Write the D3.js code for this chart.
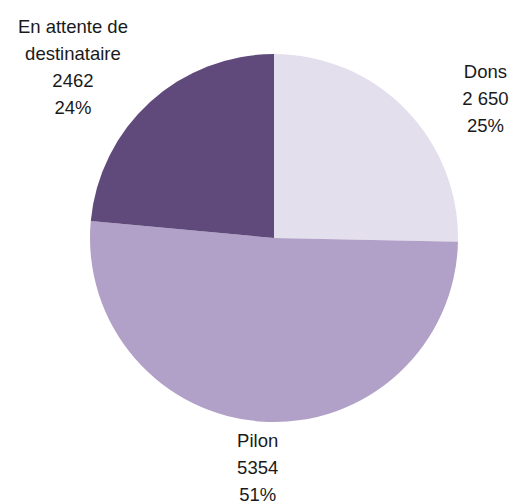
<!DOCTYPE html>
<html><head><meta charset="utf-8">
<script src="https://cdn.jsdelivr.net/npm/d3@7"></script>
<style>html,body{margin:0;padding:0;background:#fff;}svg{display:block;}</style>
</head><body>
<svg id="chart" width="516" height="504"></svg>
<script>
const categories = ["Dons", "Pilon", "En attente de destinataire"];
const values = [2650, 5354, 2462];
const valueLabels = ["2 650", "5354", "2462"];
const percentLabels = ["25%", "51%", "24%"];
const colors = ["#e4dfec", "#b1a0c7", "#604a7b"];

// layout (not data)
const W = 516, H = 504, cx = 274, cy = 238, R = 184;
const labelRadius = R + 70;
const labelShift = [[30, 38], [-2, -24], [-30, 17]];
const lineH = 27, fontSize = 18.5, wrapWidth = 130;
const FONT = "Liberation Sans, Arial, sans-serif";

const svg = d3.select("#chart");
const g = svg.append("g").attr("transform", `translate(${cx},${cy})`);

const pie = d3.pie().sort(null).value(d => d.value);
const data = categories.map((c, i) => ({cat: c, value: values[i], vl: valueLabels[i], pl: percentLabels[i], color: colors[i], i}));
const arcs = pie(data);
const arc = d3.arc().innerRadius(0).outerRadius(R);
const labelArc = d3.arc().innerRadius(labelRadius).outerRadius(labelRadius);

g.selectAll("path.slice").data(arcs).join("path")
  .attr("class", "slice")
  .attr("d", arc)
  .attr("fill", d => d.data.color);

const measure = svg.append("text").attr("font-family", FONT).attr("font-size", fontSize).attr("visibility", "hidden");
function wrap(str) {
  const words = str.split(" ");
  const lines = [];
  let cur = "";
  words.forEach(w => {
    const t = cur ? cur + " " + w : w;
    measure.text(t);
    if (measure.node().getComputedTextLength() > wrapWidth && cur) { lines.push(cur); cur = w; }
    else cur = t;
  });
  if (cur) lines.push(cur);
  return lines;
}

arcs.forEach((a, k) => {
  const [lx, ly] = labelArc.centroid(a);
  const x = lx + labelShift[k][0], y = ly + labelShift[k][1];
  const lines = wrap(a.data.cat).concat([a.data.vl, a.data.pl]);
  const t = g.append("text")
    .attr("font-family", FONT)
    .attr("font-size", fontSize)
    .attr("fill", "#1a1a1a")
    .attr("text-anchor", "middle");
  const y0 = y - (lines.length - 1) * lineH / 2;
  lines.forEach((l, j) => {
    t.append("tspan").attr("x", x).attr("y", y0 + j * lineH).attr("dy", "0.35em").text(l);
  });
});
measure.remove();
</script>
</body></html>
